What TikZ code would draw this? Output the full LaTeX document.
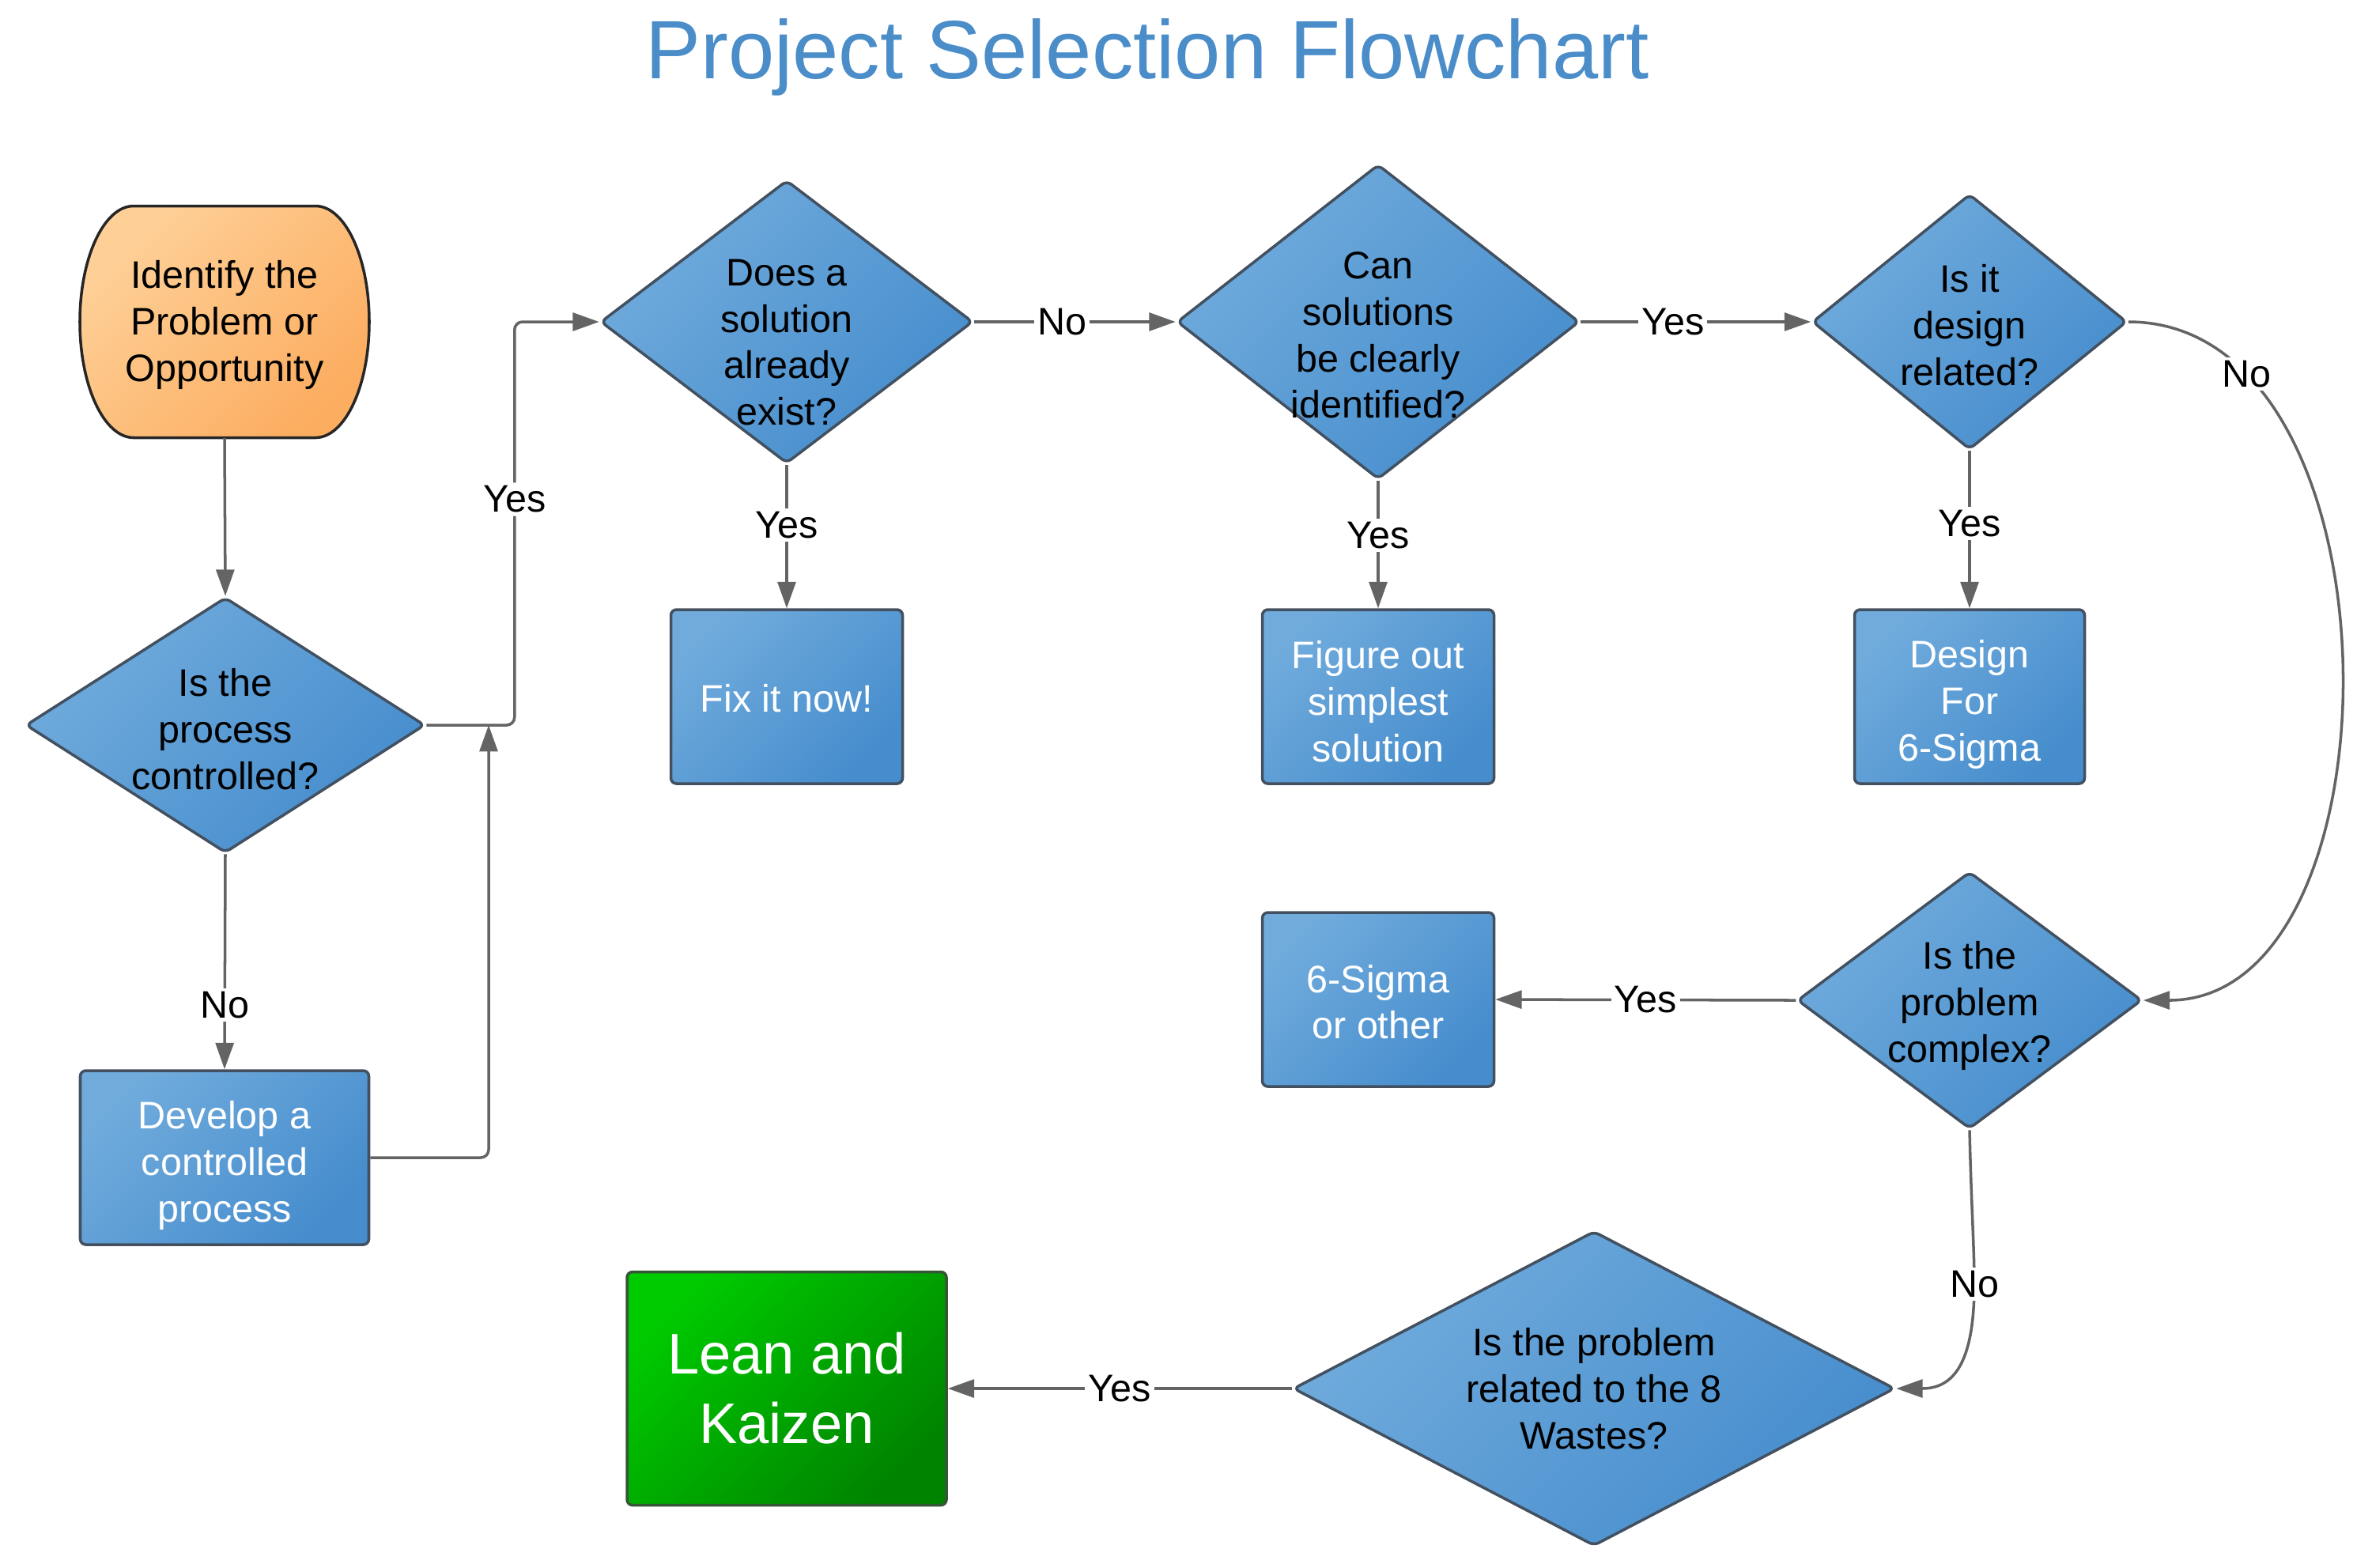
\documentclass[tikz,border=0pt]{standalone}
\usepackage{fontspec}
\setmainfont{Liberation Sans}
\usetikzlibrary{shapes.geometric, arrows.meta, backgrounds, calc}

\definecolor{bluelt}{RGB}{112,171,220}
\definecolor{bluedk}{RGB}{70,141,205}
\definecolor{blueln}{RGB}{66,80,96}
\definecolor{orlt}{RGB}{254,208,152}
\definecolor{ordk}{RGB}{252,173,96}
\definecolor{grlt}{RGB}{0,202,0}
\definecolor{grdk}{RGB}{0,132,0}
\definecolor{grln}{RGB}{55,85,55}
\definecolor{conncol}{RGB}{100,100,100}
\definecolor{titlecol}{RGB}{74,141,201}

\tikzset{
  bodyfont/.style={font=\fontsize{13.8}{16.7}\selectfont},
  titlestyle/.style={font=\fontsize{29.8}{36}\selectfont, text=titlecol, inner sep=0pt},
  startnode/.style={rectangle, minimum width=3.66cm, minimum height=2.93cm, inner sep=0pt},
  startshape/.style={draw=black!85, line width=1pt, top color=orlt, bottom color=ordk, shading angle=45},
  dia/.style={diamond, draw=blueln, line width=1pt, rounded corners=2pt, top color=bluelt, bottom color=bluedk, shading angle=45, inner sep=0pt},
  dtxt/.style={align=center, bodyfont, text=black, inner sep=0pt},
  box/.style={rectangle, draw=blueln, line width=1pt, rounded corners=2pt, top color=bluelt, bottom color=bluedk, shading angle=45, inner sep=0pt, minimum height=2.20cm},
  btxt/.style={align=center, bodyfont, text=white, inner sep=0pt},
  greenbox/.style={rectangle, draw=grln, line width=1pt, rounded corners=2pt, top color=grlt, bottom color=grdk, shading angle=45, inner sep=0pt, align=center, font=\fontsize{20.6}{25}\selectfont, text=white},
  conn/.style={draw=conncol, line width=1pt, line join=round, -{Triangle[length=9.5pt,width=6.5pt]}},
  lbl/.style={fill=white, inner sep=1.2pt, bodyfont, text=black},
}

\begin{document}
\begin{tikzpicture}
\useasboundingbox (0,0) rectangle (30,-19.82);

% title
\node[titlestyle, anchor=base] (title) at (14.51,-0.995) {Project Selection Flowchart};

% start terminator
\node[startnode] (start) at (2.84,-4.07) {};
\path[startshape, shift={(start.center)}]
  (-1.15,1.465) -- (1.15,1.465)
  .. controls (1.525,1.465) and (1.83,0.809) .. (1.83,0)
  .. controls (1.83,-0.809) and (1.525,-1.465) .. (1.15,-1.465)
  -- (-1.15,-1.465)
  .. controls (-1.525,-1.465) and (-1.83,-0.809) .. (-1.83,0)
  .. controls (-1.83,0.809) and (-1.525,1.465) .. (-1.15,1.465) -- cycle;
\node[dtxt] (startt) at ([yshift=-0.04cm]start.center) {Identify the\\Problem or\\Opportunity};

% decisions
\node[dia, minimum width=5.05cm, minimum height=3.23cm] (d1) at (2.85,-9.17) {};
\node[dtxt] (d1t) at ([yshift=-0.05cm]d1.center) {Is the\\process\\controlled?};

\node[dia, minimum width=4.71cm, minimum height=3.58cm] (d2) at (9.95,-4.07) {};
\node[dtxt] (d2t) at ([yshift=-0.26cm]d2.center) {Does a\\solution\\already\\exist?};

\node[dia, minimum width=5.09cm, minimum height=3.98cm] (d3) at (17.43,-4.07) {};
\node[dtxt] (d3t) at ([yshift=-0.17cm]d3.center) {Can\\solutions\\be clearly\\identified?};

\node[dia, minimum width=3.98cm, minimum height=3.23cm] (d4) at (24.91,-4.07) {};
\node[dtxt] (d4t) at ([yshift=-0.04cm]d4.center) {Is it\\design\\related?};

\node[dia, minimum width=4.36cm, minimum height=3.25cm] (d5) at (24.91,-12.65) {};
\node[dtxt] (d5t) at ([yshift=-0.07cm]d5.center) {Is the\\problem\\complex?};

\node[dia, minimum width=7.61cm, minimum height=3.98cm] (d6) at (20.16,-17.56) {};
\node[dtxt] (d6t) at (d6.center) {Is the problem\\related to the 8\\Wastes?};

% process boxes
\node[box, minimum width=3.65cm] (r1) at (2.84,-14.64) {};
\node[btxt] (r1t) at ([yshift=-0.10cm]r1.center) {Develop a\\controlled\\process};
\node[box, minimum width=2.93cm] (r2) at (9.95,-8.81) {};
\node[btxt] (r2t) at ([yshift=-0.02cm]r2.center) {Fix it now!};
\node[box, minimum width=2.93cm] (r3) at (17.43,-8.81) {};
\node[btxt] (r3t) at ([yshift=-0.06cm]r3.center) {Figure out\\simplest\\solution};
\node[box, minimum width=2.91cm] (r4) at (24.91,-8.81) {};
\node[btxt] (r4t) at ([yshift=-0.10cm]r4.center) {Design\\For\\6-Sigma};
\node[box, minimum width=2.93cm] (r5) at (17.43,-12.64) {};
\node[btxt] (r5t) at ([yshift=-0.03cm]r5.center) {6-Sigma\\or other};
\node[greenbox, minimum width=4.04cm, minimum height=2.95cm] (r6) at (9.95,-17.56) {Lean and\\Kaizen};

% connectors
\draw[conn] (start.south) -- (d1.north);

\draw[conn, rounded corners=0.1cm] (d1.east) -- ++(1.115,0) |- node[lbl, pos=0.28] (l1) {Yes} (d2.west);

\draw[conn] (d1.south) -- node[lbl, pos=0.70] (l2) {No} (r1.north);

\coordinate (jn) at (6.18,-9.17);
\draw[conn, rounded corners=0.1cm] (r1.east) -| (jn);

\draw[conn] (d2.east) -- node[lbl, pos=0.436] (l3) {No} (d3.west);
\draw[conn] (d2.south) -- node[lbl, pos=0.42] (l4) {Yes} (r2.north);

\draw[conn] (d3.east) -- node[lbl, pos=0.40] (l5) {Yes} (d4.west);
\draw[conn] (d3.south) -- node[lbl, pos=0.43] (l6) {Yes} (r3.north);

\draw[conn] (d4.south) -- node[lbl, pos=0.46] (l7) {Yes} (r4.north);

\draw[conn] (d4.east) .. controls (30.45,-4.07) and (30.45,-12.65) .. node[lbl, pos=0.17] (l8) {No} (d5.east);

\draw[conn] (d5.west) -- node[lbl, pos=0.50] (l9) {Yes} (r5.east);

\draw[conn] (d5.south) .. controls (24.93,-15.2) and (24.97,-15.8) .. (24.97,-16.24) node[lbl] (l10) {No}
  .. controls (24.97,-17.25) and (24.7,-17.56) .. (d6.east);

\draw[conn] (d6.west) -- node[lbl, pos=0.50] (l11) {Yes} (r6.east);

\end{tikzpicture}
\end{document}
